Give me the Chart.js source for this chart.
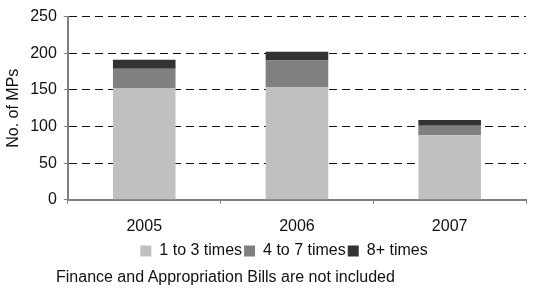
<!DOCTYPE html>
<html>
<head>
<meta charset="utf-8">
<script src="https://cdn.jsdelivr.net/npm/chart.js@4"></script>
<style>
  body { margin: 0; background: #fff; }
  #wrap { position: relative; width: 542px; height: 269px; }
  #note {
    position: absolute; left: 56px; top: 268px;
    font: 16px "Liberation Sans", Arial, sans-serif; color: #111;
  }
</style>
</head>
<body>
<div id="wrap"><canvas id="mpChart"></canvas></div>
<div id="note">Finance and Appropriation Bills are not included</div>
<script>
// ── data ─────────────────────────────────
const years = ['2005', '2006', '2007'];
const oneToThree = [152, 154, 88];
const fourToSeven = [27, 36, 13];
const eightPlus = [12, 12, 8];
const yTicks = [0, 50, 100, 150, 200, 250];

const font = { family: 'Liberation Sans', size: 16 };

// nudge the legend a bit right, like the original
const legendShift = {
  id: 'legendShift',
  afterLayout(chart) {
    chart.legend.left += 19;
    chart.legend.right += 19;
  }
};

new Chart(document.getElementById('mpChart'), {
  type: 'bar',
  data: {
    labels: years,
    datasets: [
      { label: '1 to 3 times', data: oneToThree, backgroundColor: '#c0c0c0' },
      { label: '4 to 7 times', data: fourToSeven, backgroundColor: '#808080' },
      { label: '8+ times', data: eightPlus, backgroundColor: '#333333' }
    ]
  },
  plugins: [legendShift],
  options: {
    responsive: true,
    maintainAspectRatio: false,
    animation: false,
    datasets: { bar: { barPercentage: 0.41, categoryPercentage: 1 } },
    layout: { padding: { left: 4, right: 16, top: 15, bottom: 0 } },
    plugins: {
      tooltip: { enabled: false },
      legend: {
        position: 'bottom',
        labels: {
          font: font, color: '#111',
          boxWidth: 11, boxHeight: 11, padding: 2
        }
      }
    },
    scales: {
      x: {
        stacked: true,
        afterFit: axis => { axis.height -= 8; },   // pull legend up closer to labels
        border: { color: '#808080', width: 2 },
        grid: { offset: true, drawOnChartArea: false, tickLength: 4, tickColor: '#808080' },
        ticks: { font: font, color: '#111', padding: 13 }
      },
      y: {
        stacked: true,
        min: 0, max: 250,
        afterBuildTicks: axis => { axis.ticks = yTicks.map(v => ({ value: v })); },
        border: { color: '#808080', width: 2, dash: [8, 5] },
        grid: {
          color: '#111', lineWidth: 1,
          tickLength: 4, tickColor: '#808080', tickBorderDash: []
        },
        ticks: { font: font, color: '#111', padding: 7 },
        title: { display: true, text: 'No. of MPs', font: font, color: '#111', padding: 0 }
      }
    }
  }
});
</script>
</body>
</html>
